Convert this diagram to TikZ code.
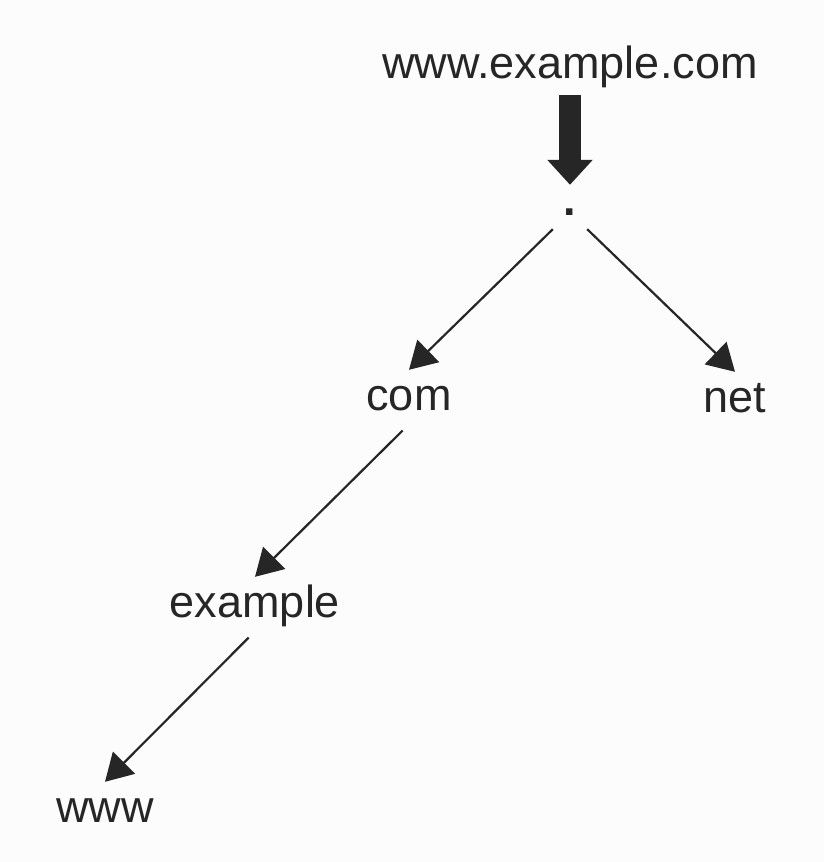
\documentclass[tikz,border=0pt]{standalone}
\usepackage{fontspec}
\setmainfont{Liberation Sans}
\usepackage{xcolor}
\usetikzlibrary{arrows.meta}

\definecolor{inkgray}{HTML}{262626}
\definecolor{paper}{HTML}{FCFCFC}

\begin{document}
\begin{tikzpicture}[x=1pt, y=-1pt,
    label/.style={font=\fontsize{45}{54}\selectfont, text=inkgray, inner sep=0pt,
      inner ysep=14pt, text height=26pt, text depth=0pt, anchor=base},
    link/.style={draw=inkgray, line width=2.2pt, -{Triangle[length=27pt, width=31pt]}},
    bigarrow/.style={draw=inkgray, line width=22pt, -{Triangle[length=25pt, width=44pt]}}]
  % Page and background
  \useasboundingbox (0,0) rectangle (824,862);
  \fill[paper] (0,0) rectangle (824,862);

  % Name to resolve and the root
  \node[label] (query) at (570,78) {www.example.com};
  \node[label, text height=16pt, minimum width=34pt] (root) at (570,215) {\textbf{.}};
  \draw[bigarrow, shorten <=3pt] (query.south) -- (root.north);

  % Top level domains
  \node[label] (com) at (409,410) {com};
  \node[label] (net) at (735,412) {net};
  \draw[link] (root.south west) -- (com.north);
  \draw[link] (root.south east) -- (net.north);

  % Down the tree
  \node[label] (example) at (255,617) {example};
  \node[label] (www) at (105,822) {www};
  \draw[link, shorten <=9pt] (com.south) -- (example.north);
  \draw[link, shorten <=9pt] (example.south) -- (www.north);
\end{tikzpicture}
\end{document}
